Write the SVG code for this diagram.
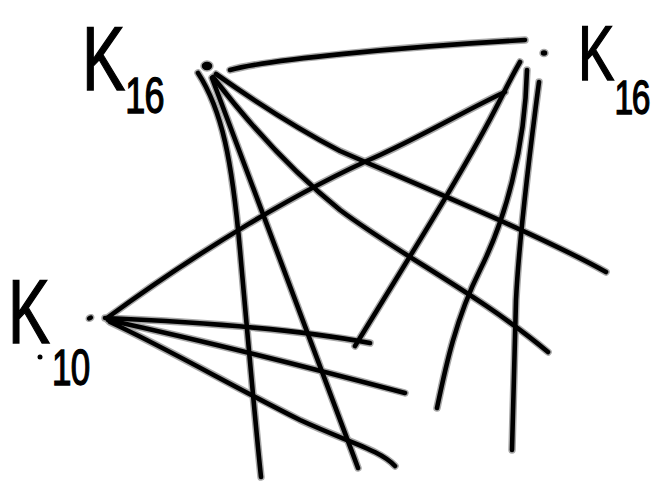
<svg xmlns="http://www.w3.org/2000/svg" width="657" height="487" viewBox="0 0 657 487">
<style>
.halo{fill:none;stroke:#a8a8a8;stroke-width:7.5;stroke-linecap:round;stroke-linejoin:round}
.ink{fill:none;stroke:#000;stroke-width:4.6;stroke-linecap:round;stroke-linejoin:round}
.lbl{font-family:"Liberation Sans",Arial,sans-serif;fill:#000;stroke:#000;stroke-width:1.4}
.dot{fill:#000;stroke:#a8a8a8;stroke-width:1.5}
</style>
<defs>
<g id="edges">
<path d="M230,70 C265,60 400,47 525,40"/>
<path d="M198,73 C222,110 232,160 240,250 S255,420 261,477"/>
<path d="M212,78 C240,150 300,310 358,468"/>
<path d="M213,77 C250,125 290,170 340,210 C400,255 480,295 548,352"/>
<path d="M216,74 C260,105 300,130 340,151 C420,186 540,235 606,272"/>
<path d="M107,318 C200,250 300,190 380,155 C430,132 470,108 505,92"/>
<path d="M105,318 C200,322 300,330 370,343"/>
<path d="M108,320 C200,340 300,365 405,393"/>
<path d="M110,322 C170,350 230,385 300,420 C350,443 380,450 395,466"/>
<path d="M520,62 C512,76 507,86 500,100 C470,160 420,240 355,346"/>
<path d="M527,70 C525,150 505,220 480,270 S445,370 437,408"/>
<path d="M539,82 C530,150 519,240 516,300 L512,450"/>
</g>
</defs>
<rect width="657" height="487" fill="#fff"/>
<g id="connectors">
<use href="#edges" class="halo"/>
<use href="#edges" class="ink"/>
</g>
<g id="node-k16-left">
<ellipse class="dot" cx="207" cy="66" rx="6" ry="5"/>
<text class="lbl" transform="translate(82,90) scale(0.72,1)" font-size="90">K<tspan font-size="50" dy="23" letter-spacing="-1">16</tspan></text>
</g>
<g id="node-k16-right">
<ellipse class="dot" cx="544" cy="53" rx="4" ry="3.5"/>
<text class="lbl" transform="translate(578,80) scale(0.7,1)" font-size="78">K<tspan font-size="48" dy="34" letter-spacing="-2">16</tspan></text>
</g>
<g id="node-k10">
<ellipse class="dot" cx="90" cy="318" rx="4" ry="3" transform="rotate(-30 90 318)"/>
<circle cx="40" cy="357" r="2.5" fill="#000"/>
<text class="lbl" transform="translate(8,343) scale(0.7,1)" font-size="90">K<tspan font-size="50" dx="3" dy="42" letter-spacing="-1">10</tspan></text>
</g>
</svg>
